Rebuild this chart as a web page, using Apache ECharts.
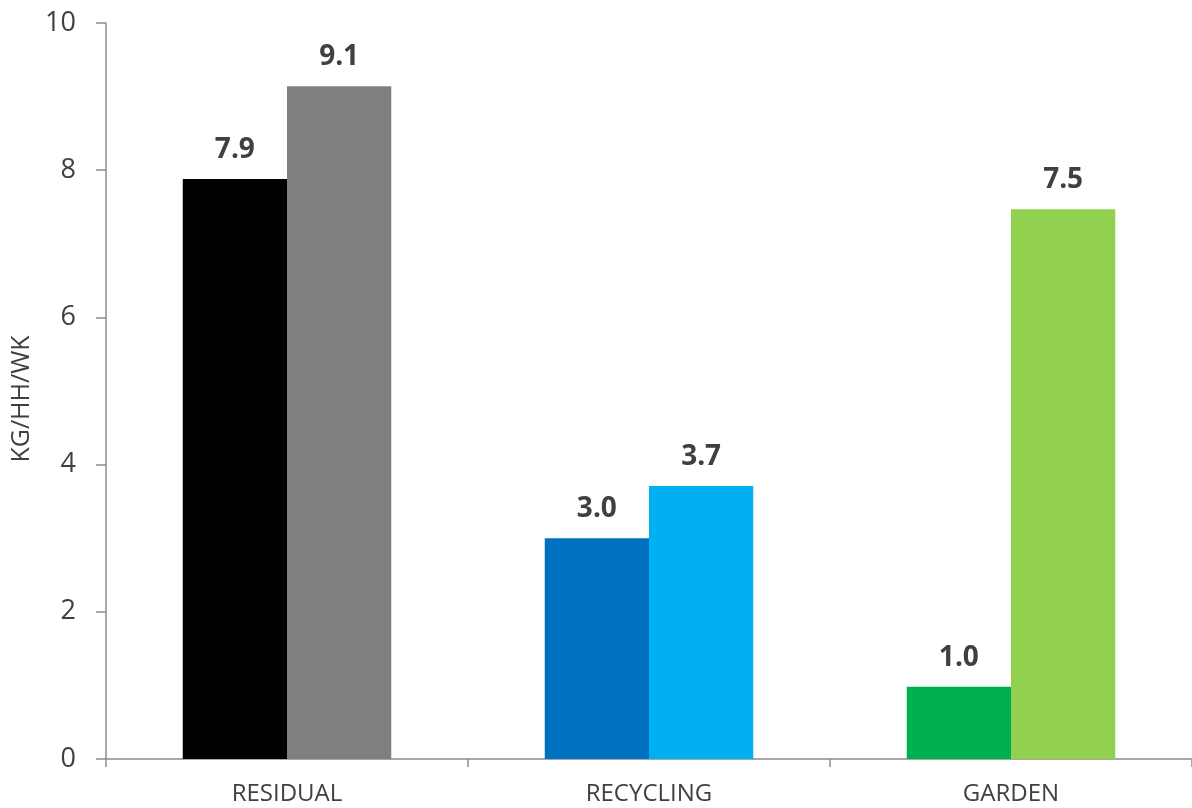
<!DOCTYPE html>
<html>
<head>
<meta charset="utf-8">
<script src="https://cdn.jsdelivr.net/npm/echarts@6/dist/echarts.min.js"></script>
<style>html,body{margin:0;padding:0;background:#fff}#c{width:1192px;height:808px}</style>
</head>
<body>
<div id="c"></div>
<script>
const categories = ['RESIDUAL', 'RECYCLING', 'GARDEN'];
const seriesA = [7.88, 3.0, 0.98];
const seriesB = [9.14, 3.71, 7.47];
const colorsA = ['#000000', '#0070c0', '#00b050'];
const colorsB = ['#7f7f7f', '#00b0f0', '#92d050'];
const yTicks = [0, 2, 4, 6, 8, 10];
const yName = 'KG/HH/WK';

const font = '"Open Sans", sans-serif';
const textColor = '#404040';
const lineColor = '#8c8c8c';

const chart = echarts.init(document.getElementById('c'), null, {renderer: 'canvas'});
const label = {
  show: true, position: 'top', distance: 15,
  fontFamily: font, fontWeight: 'bold', fontSize: 28, color: textColor,
  formatter: p => p.value.toFixed(1)
};
chart.setOption({
  animation: false,
  grid: {left: 106, top: 23, bottom: 49, right: -8, containLabel: false},
  xAxis: {
    type: 'category', data: categories,
    axisLine: {lineStyle: {color: lineColor, width: 1.5}},
    axisTick: {show: true, length: 8, alignWithLabel: false, lineStyle: {color: lineColor, width: 1.5}},
    axisLabel: {fontFamily: font, fontSize: 24, color: textColor, margin: 23}
  },
  yAxis: {
    type: 'value', min: yTicks[0], max: yTicks[yTicks.length - 1], interval: 2,
    name: yName, nameLocation: 'middle', nameRotate: 90, nameGap: 72,
    nameTextStyle: {fontFamily: font, fontSize: 25, color: textColor, padding: [0, 16, 0, 0]},
    splitLine: {show: false},
    axisLine: {show: true, lineStyle: {color: lineColor, width: 1.5}},
    axisTick: {show: true, length: 10, lineStyle: {color: lineColor, width: 1.5}},
    axisLabel: {fontFamily: font, fontSize: 27, color: textColor, margin: 30}
  },
  series: [
    {type: 'bar', data: seriesA.map((v, i) => ({value: v, itemStyle: {color: colorsA[i]}})),
     barGap: '0%', barCategoryGap: '42.4%', label: label},
    {type: 'bar', data: seriesB.map((v, i) => ({value: v, itemStyle: {color: colorsB[i]}})),
     barGap: '0%', barCategoryGap: '42.4%', label: label}
  ]
});
</script>
</body>
</html>
